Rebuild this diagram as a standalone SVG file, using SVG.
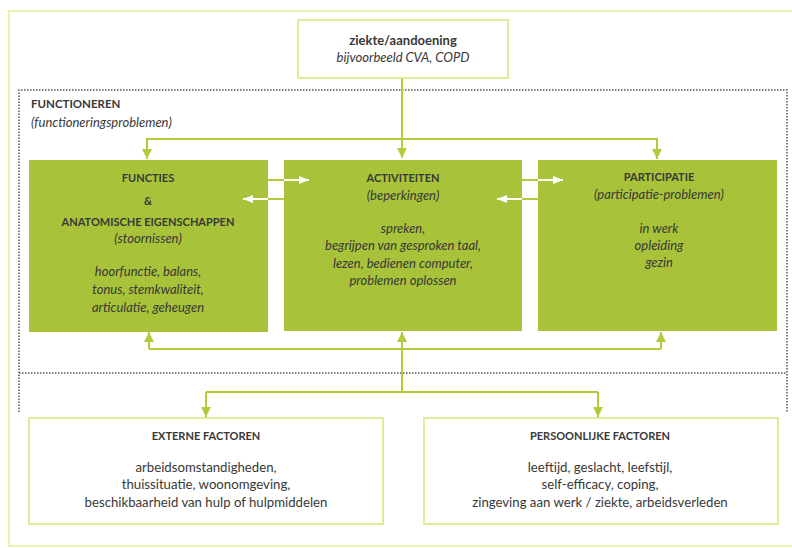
<svg xmlns="http://www.w3.org/2000/svg" width="792" height="548" viewBox="0 0 792 548">
<defs>
<marker id="ag" viewBox="0 0 10 10" refX="10" refY="5" markerWidth="10" markerHeight="10" markerUnits="userSpaceOnUse" orient="auto"><path d="M0,0 L10,5 L0,10 z" fill="#b3cb3a"/></marker>
<marker id="aw" viewBox="0 0 10 10" refX="10" refY="5" markerWidth="12" markerHeight="10" markerUnits="userSpaceOnUse" orient="auto"><path d="M0,1 L10,5 L0,9 z" fill="#ffffff"/></marker>
</defs>
<style>
.t{font-family:Lato,"Open Sans","Liberation Sans",sans-serif;fill:#383838;text-anchor:middle}
.h{font-size:11px;font-weight:bold}
.b{font-size:13.2px}
.i{font-size:13px;font-style:italic}
.g{fill:#a8c23a}
.w{fill:#ffffff;stroke:#e0ea98;stroke-width:2}
.c{fill:none;stroke:#b3cb3a;stroke-width:2}
.cw{fill:none;stroke:#ffffff;stroke-width:2}
.d{fill:none;stroke:#555;stroke-width:1.5;stroke-dasharray:1.5 1.5}
</style>
<rect width="792" height="548" fill="#ffffff"/>
<path d="M800,11 H9 V546 H800" fill="none" stroke="#eef0b0" stroke-width="2"/>
<g id="frame">
<path class="d" d="M19,412 V90 H787 V412 M19,373 H787"/>
</g>
<g id="connectors">
<path class="c" d="M402,78 V158" marker-end="url(#ag)"/>
<path class="c" d="M147,158 V139 H657 V158" />
<path class="c" d="M147,140 V159" marker-end="url(#ag)"/>
<path class="c" d="M657,140 V159" marker-end="url(#ag)"/>
<path class="c" d="M402,392 V332" marker-end="url(#ag)"/>
<path class="c" d="M149,349 H661"/>
<path class="c" d="M149,349 V332" marker-end="url(#ag)"/>
<path class="c" d="M661,349 V332" marker-end="url(#ag)"/>
<path class="c" d="M206,392 H598"/>
<path class="c" d="M206,392 V417" marker-end="url(#ag)"/>
<path class="c" d="M598,392 V417" marker-end="url(#ag)"/>
</g>
<g id="ziekte">
<rect class="w" x="298" y="20" width="210" height="58"/>
<text class="t h" x="403" y="45" style="font-size:13px">ziekte/aandoening</text>
<text class="t i" x="403" y="62">bijvoorbeeld CVA, COPD</text>
</g>
<g id="functioneren-label">
<text class="t h" x="31" y="108" style="text-anchor:start;font-size:11.5px">FUNCTIONEREN</text>
<text class="t i" x="31" y="127" style="text-anchor:start">(functioneringsproblemen)</text>
</g>
<g id="functies">
<rect class="g" x="29" y="160" width="239" height="172"/>
<text class="t h" x="148" y="182">FUNCTIES</text>
<text class="t h" x="148" y="205">&amp;</text>
<text class="t h" x="148" y="226">ANATOMISCHE EIGENSCHAPPEN</text>
<text class="t i" x="148" y="243">(stoornissen)</text>
<text class="t i" x="148" y="276">hoorfunctie, balans,</text>
<text class="t i" x="148" y="294">tonus, stemkwaliteit,</text>
<text class="t i" x="148" y="312">articulatie, geheugen</text>
</g>
<g id="activiteiten">
<rect class="g" x="284" y="160" width="238" height="171"/>
<text class="t h" x="403" y="182">ACTIVITEITEN</text>
<text class="t i" x="403" y="200">(beperkingen)</text>
<text class="t i" x="403" y="233">spreken,</text>
<text class="t i" x="403" y="250">begrijpen van gesproken taal,</text>
<text class="t i" x="403" y="268">lezen, bedienen computer,</text>
<text class="t i" x="403" y="285">problemen oplossen</text>
</g>
<g id="participatie">
<rect class="g" x="538" y="160" width="239" height="171"/>
<text class="t h" x="659" y="181">PARTICIPATIE</text>
<text class="t i" x="659" y="199">(participatie-problemen)</text>
<text class="t i" x="659" y="233">in werk</text>
<text class="t i" x="659" y="250">opleiding</text>
<text class="t i" x="659" y="267">gezin</text>
</g>
<g id="side-arrows">
<path class="c" d="M268,180 H284 M284,199 H268 M522,180 H538 M538,199 H522"/>
<path class="cw" d="M284,180 H309" marker-end="url(#aw)"/>
<path class="cw" d="M268,199 H243" marker-end="url(#aw)"/>
<path class="cw" d="M538,180 H563" marker-end="url(#aw)"/>
<path class="cw" d="M522,199 H497" marker-end="url(#aw)"/>
</g>
<g id="externe">
<rect class="w" x="29" y="418" width="354" height="106"/>
<text class="t h" x="206" y="440">EXTERNE FACTOREN</text>
<text class="t b" x="206" y="472">arbeidsomstandigheden,</text>
<text class="t b" x="206" y="489">thuissituatie, woonomgeving,</text>
<text class="t b" x="206" y="507">beschikbaarheid van hulp of hulpmiddelen</text>
</g>
<g id="persoonlijke">
<rect class="w" x="424" y="418" width="354" height="106"/>
<text class="t h" x="600" y="440">PERSOONLIJKE FACTOREN</text>
<text class="t b" x="600" y="472">leeftijd, geslacht, leefstijl,</text>
<text class="t b" x="600" y="489">self-efficacy, coping,</text>
<text class="t b" x="600" y="507">zingeving aan werk / ziekte, arbeidsverleden</text>
</g>
</svg>
